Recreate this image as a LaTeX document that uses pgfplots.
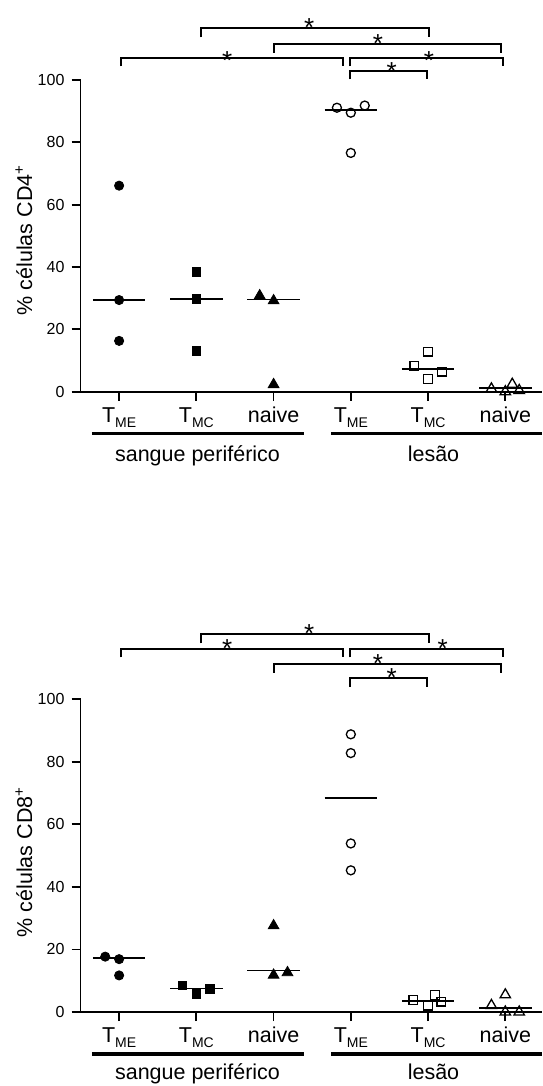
\documentclass[border=0pt]{standalone}
\usepackage{fontspec}
\setmainfont{Liberation Sans}
\usepackage{pgfplots}
\pgfplotsset{compat=1.18}
\newcommand{\Tsub}[1]{T\raisebox{-2.5pt}{\fontsize{7}{8}\selectfont #1}}
\newcommand{\lab}{\fontsize{10.75}{12}\selectfont}
\newcommand{\stf}{\fontsize{13}{14}\selectfont}
\pgfplotsset{
  panel/.style={
    scale only axis, width=230.75pt,
    xmin=-0.5, xmax=5.475, ymin=0, ymax=100,
    axis x line=bottom, axis y line=left,
    axis line style={-, line width=0.9pt, black},
    tick style={line width=0.9pt, black},
    tick align=outside, major tick length=4.5pt,
    xtick={0,...,5},
    xticklabels={\Tsub{ME},\Tsub{MC},naive,\Tsub{ME},\Tsub{MC},naive},
    xticklabel style={font=\lab, anchor=base, inner sep=0pt, yshift=-10.85pt},
    ytick={0,20,...,100},
    yticklabel style={font=\fontsize{8}{9}\selectfont},
    /pgf/number format/assume math mode=true,
    clip=false,
  },
  med/.style={black, line width=0.9pt, no marks},
  br/.style={black, line width=1pt, no marks},
  fc/.style={only marks, mark=*, mark size=2.3pt, mark options={fill=black, draw=black, line width=0.4pt}},
  fs/.style={only marks, mark=square*, mark size=2.2pt, mark options={fill=black, draw=black, line width=0.4pt}},
  ft/.style={only marks, mark=triangle*, mark size=3.1pt, mark options={fill=black, draw=black, line width=0.4pt}},
  oc/.style={only marks, mark=o, mark size=2.25pt, mark options={draw=black, line width=0.65pt}},
  os/.style={only marks, mark=square, mark size=2.15pt, mark options={draw=black, line width=0.65pt}},
  ot/.style={only marks, mark=triangle, mark size=3.0pt, mark options={draw=black, line width=0.65pt}},
}
\begin{document}
\begin{tikzpicture}
\path[use as bounding box] (0,0) rectangle (271pt,543pt);
% ---------------- top panel: CD4 ----------------
\begin{axis}[panel, at={(40.25pt,347.15pt)}, anchor=south west, height=155.85pt,
  ylabel={\% células CD4\textsuperscript{+}},
  ylabel style={font=\lab, anchor=base, at={(axis description cs:-0.105,0.487)}}]
\addplot[fc] coordinates {(0,66.1) (0,29.4) (0,16.3)};
\addplot[med] coordinates {(-0.34,29.4) (0.34,29.4)};
\addplot[fs] coordinates {(1,38.4) (1,29.7) (1,13.0)};
\addplot[med] coordinates {(0.66,29.7) (1.34,29.7)};
\addplot[ft] coordinates {(1.82,30.8) (2,29.2) (2,2.3)};
\addplot[med] coordinates {(1.66,29.6) (2.34,29.6)};
\addplot[oc] coordinates {(2.82,91.1) (3,89.5) (3.18,91.8) (3,76.6)};
\addplot[med] coordinates {(2.66,90.4) (3.34,90.4)};
\addplot[os] coordinates {(3.82,8.2) (4,12.8) (4,4.1) (4.18,6.4)};
\addplot[med] coordinates {(3.66,7.2) (4.34,7.2)};
\addplot[ot] coordinates {(4.82,0.9) (5,0.0) (5.09,2.4) (5.18,0.4)};
\addplot[med] coordinates {(4.66,1.1) (5.34,1.1)};
% significance brackets
\addplot[br] coordinates {(1.06,113.7) (1.06,116.6) (4.01,116.6) (4.01,113.7)};
\addplot[br] coordinates {(2.0,108.8) (2.0,111.6) (4.95,111.6) (4.95,108.8)};
\addplot[br] coordinates {(0.02,104.4) (0.02,107.2) (2.90,107.2) (2.90,104.4)};
\addplot[br] coordinates {(2.99,104.4) (2.99,107.2) (4.97,107.2) (4.97,104.4)};
\addplot[br] coordinates {(2.99,100.2) (2.99,103.0) (3.99,103.0) (3.99,100.2)};
\node[font=\stf, anchor=base, yshift=-7.5pt, inner sep=0pt] at (axis cs:2.46,118.7) {*};
\node[font=\stf, anchor=base, yshift=-7.5pt, inner sep=0pt] at (axis cs:3.35,113.7) {*};
\node[font=\stf, anchor=base, yshift=-7.5pt, inner sep=0pt] at (axis cs:1.40,108.2) {*};
\node[font=\stf, anchor=base, yshift=-7.5pt, inner sep=0pt] at (axis cs:4.01,108.2) {*};
\node[font=\stf, anchor=base, yshift=-7.5pt, inner sep=0pt] at (axis cs:3.53,104.6) {*};
% group bars
\addplot[black, line width=1.6pt, no marks] coordinates {(-0.353,-13.35) (2.39,-13.35)};
\addplot[black, line width=1.6pt, no marks] coordinates {(2.746,-13.35) (5.475,-13.35)};
\node[font=\lab, anchor=base] at (axis cs:1.015,-22.5) {sangue periférico};
\node[font=\lab, anchor=base] at (axis cs:4.07,-22.5) {lesão};
\end{axis}
% ---------------- bottom panel: CD8 ----------------
\begin{axis}[panel, at={(40.25pt,37pt)}, anchor=south west, height=156.35pt,
  ylabel={\% células CD8\textsuperscript{+}},
  ylabel style={font=\lab, anchor=base, at={(axis description cs:-0.105,0.48)}}]
\addplot[fc] coordinates {(-0.18,17.7) (0,16.9) (0,11.7)};
\addplot[med] coordinates {(-0.34,17.3) (0.34,17.3)};
\addplot[fs] coordinates {(0.82,8.5) (1,5.9) (1.18,7.5)};
\addplot[med] coordinates {(0.66,7.5) (1.34,7.5)};
\addplot[ft] coordinates {(2,27.6) (2,11.8) (2.18,12.6)};
\addplot[med] coordinates {(1.66,13.3) (2.34,13.3)};
\addplot[oc] coordinates {(3,88.8) (3,82.8) (3,53.9) (3,45.3)};
\addplot[med] coordinates {(2.66,68.4) (3.34,68.4)};
\addplot[os] coordinates {(3.81,3.8) (4,2.0) (4.09,5.4) (4.17,3.3)};
\addplot[med] coordinates {(3.66,3.5) (4.34,3.5)};
\addplot[ot] coordinates {(4.82,2.1) (5,5.5) (5,0.0) (5.18,0.0)};
\addplot[med] coordinates {(4.66,1.2) (5.34,1.2)};
% significance brackets
\addplot[br] coordinates {(1.06,117.9) (1.06,120.9) (4.01,120.9) (4.01,117.9)};
\addplot[br] coordinates {(0.02,113.4) (0.02,116.2) (2.90,116.2) (2.90,113.4)};
\addplot[br] coordinates {(2.99,113.4) (2.99,116.2) (4.97,116.2) (4.97,113.4)};
\addplot[br] coordinates {(2.0,108.5) (2.0,111.4) (4.95,111.4) (4.95,108.5)};
\addplot[br] coordinates {(2.99,104.0) (2.99,106.8) (3.99,106.8) (3.99,104.0)};
\node[font=\stf, anchor=base, yshift=-7.5pt, inner sep=0pt] at (axis cs:2.46,123.0) {*};
\node[font=\stf, anchor=base, yshift=-7.5pt, inner sep=0pt] at (axis cs:1.40,118.1) {*};
\node[font=\stf, anchor=base, yshift=-7.5pt, inner sep=0pt] at (axis cs:4.19,118.1) {*};
\node[font=\stf, anchor=base, yshift=-7.5pt, inner sep=0pt] at (axis cs:3.35,113.4) {*};
\node[font=\stf, anchor=base, yshift=-7.5pt, inner sep=0pt] at (axis cs:3.53,109.0) {*};
% group bars
\addplot[black, line width=1.6pt, no marks] coordinates {(-0.353,-13.4) (2.39,-13.4)};
\addplot[black, line width=1.6pt, no marks] coordinates {(2.746,-13.4) (5.475,-13.4)};
\node[font=\lab, anchor=base] at (axis cs:1.015,-21.7) {sangue periférico};
\node[font=\lab, anchor=base] at (axis cs:4.07,-21.7) {lesão};
\end{axis}
\end{tikzpicture}
\end{document}
